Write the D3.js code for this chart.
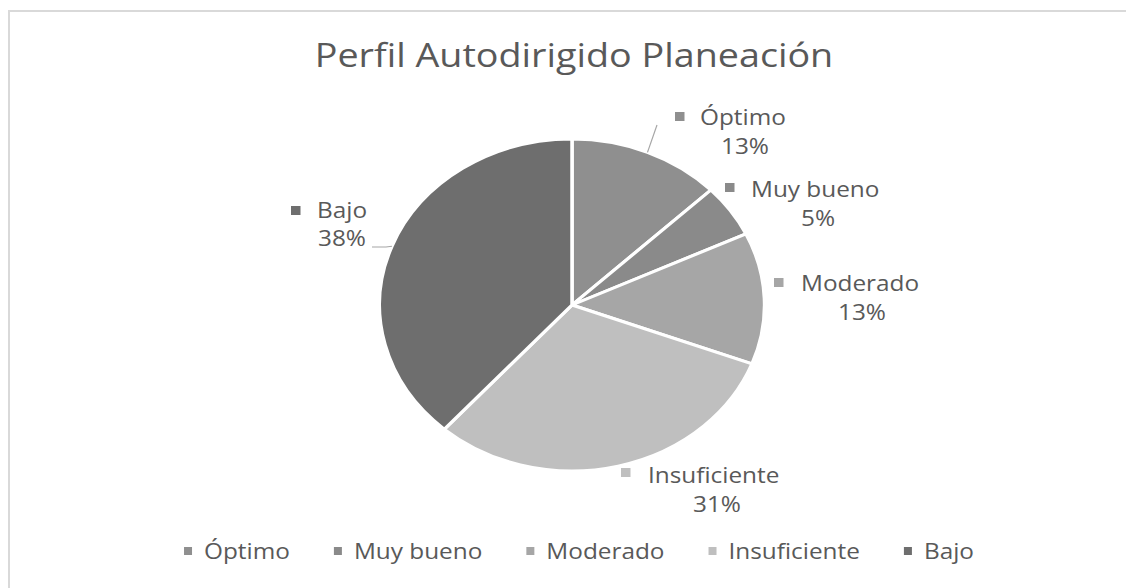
<!DOCTYPE html>
<html>
<head>
<meta charset="utf-8">
<script src="https://cdn.jsdelivr.net/npm/d3@7"></script>
<style>
  body { margin: 0; background: #fff; }
  svg { display: block; font-family: "Open Sans", sans-serif; }
</style>
</head>
<body>
<svg id="drawing_region"></svg>
<script>
// data (counts give the rounded percentages)
const categories = ['Óptimo', 'Muy bueno', 'Moderado', 'Insuficiente', 'Bajo'];
const counts = [5, 2, 5, 12, 15];
const colors = ['#8f8f8f', '#8a8a8a', '#a6a6a6', '#bfbfbf', '#6e6e6e'];
const title = 'Perfil Autodirigido Planeación';

const W = 1126, H = 588;
const sx = 1.16;            // the original picture is stretched sideways
const X = px => px / sx;    // screen x -> inner x

const svg = d3.select('#drawing_region')
    .attr('width', W)
    .attr('height', H);

// chart frame (only top and left edges are visible)
svg.append('line').attr('x1', 8).attr('x2', W).attr('y1', 11).attr('y2', 11)
    .attr('stroke', '#d9d9d9').attr('stroke-width', 2);
svg.append('line').attr('x1', 9).attr('x2', 9).attr('y1', 10).attr('y2', H)
    .attr('stroke', '#d9d9d9').attr('stroke-width', 2);

const chart = svg.append('g').attr('transform', `scale(${sx},1)`);

chart.append('text')
    .attr('x', X(574)).attr('y', 67)
    .attr('text-anchor', 'middle')
    .attr('font-size', 32.5)
    .attr('fill', '#595959')
    .text(title);

const data = categories.map((c, i) => ({ name: c, value: counts[i], color: colors[i] }));
const total = d3.sum(counts);

const cx = X(572), cy = 305, r = 166;

const pie = d3.pie().value(d => d.value).sort(null);
const arcs = pie(data);
const arc = d3.arc().innerRadius(0).outerRadius(r);

const pieG = chart.append('g').attr('transform', `translate(${cx},${cy})`);
pieG.selectAll('path')
    .data(arcs)
    .enter()
    .append('path')
    .attr('d', arc)
    .attr('fill', d => d.data.color)
    .attr('stroke', '#fff')
    .attr('stroke-width', 3)
    .attr('stroke-linejoin', 'round');

// label placement (screen coords): marker left/top, text start, baseline, percent centre
const labelPos = [
    { mx: 675, my: 112, tx: 700, ty: 125, px: 745, py: 154, leader: [657, 125] },
    { mx: 725, my: 183, tx: 751, ty: 197, px: 818, py: 226 },
    { mx: 774, my: 278, tx: 801, ty: 291, px: 862, py: 320 },
    { mx: 621, my: 468, tx: 648, ty: 483, px: 717, py: 512 },
    { mx: 291, my: 206, tx: 317, ty: 218, px: 342, py: 246, leader: [372, 247] }
];

const fs = 21;
const labels = chart.append('g');
arcs.forEach((a, i) => {
    const p = labelPos[i];
    const pct = Math.round(a.data.value / total * 100) + '%';
    labels.append('rect')
        .attr('x', X(p.mx)).attr('y', p.my)
        .attr('width', X(9.5)).attr('height', 9)
        .attr('fill', a.data.color);
    labels.append('text')
        .attr('x', X(p.tx)).attr('y', p.ty)
        .attr('font-size', fs).attr('fill', '#595959')
        .text(a.data.name);
    labels.append('text')
        .attr('x', X(p.px)).attr('y', p.py)
        .attr('text-anchor', 'middle')
        .attr('font-size', fs).attr('fill', '#595959')
        .text(pct);
    if (p.leader) {
        const mid = (a.startAngle + a.endAngle) / 2;
        const ex = cx + r * Math.sin(mid), ey = cy - r * Math.cos(mid);
        const pts = i === 4
            ? [[X(p.leader[0]), p.leader[1]], [X(386), p.leader[1]], [ex, ey]]
            : [[X(p.leader[0]), p.leader[1]], [ex, ey]];
        labels.append('path')
            .attr('d', d3.line()(pts))
            .attr('fill', 'none')
            .attr('stroke', '#a6a6a6')
            .attr('stroke-width', 1);
    }
});

// legend along the bottom
const legend = chart.append('g');
const items = legend.selectAll('g')
    .data(data)
    .enter()
    .append('g');
items.append('rect')
    .attr('y', 547).attr('width', X(8)).attr('height', 8)
    .attr('fill', d => d.color);
items.append('text')
    .attr('x', X(20)).attr('y', 559)
    .attr('font-size', fs).attr('fill', '#595959')
    .text(d => d.name);

let pos = 0;
const offsets = [];
items.each(function () {
    offsets.push(pos);
    const w = d3.select(this).select('text').node().getComputedTextLength();
    pos += X(20) + w + X(44);
});
const legendWidth = pos - X(44);
const start = X(579) - legendWidth / 2;
items.attr('transform', (d, i) => `translate(${start + offsets[i]},0)`);
</script>
</body>
</html>
